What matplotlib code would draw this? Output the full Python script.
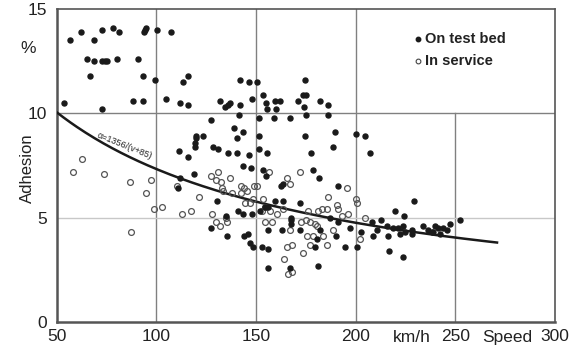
import matplotlib.pyplot as plt
import numpy as np

plt.rcParams['font.family'] = ['Liberation Sans', 'DejaVu Sans']

# on test bed (filled dots): speed km/h, adhesion %
bed_v = [53.5, 56.5, 62.0, 68.6, 72.6, 78.1, 81.1, 65.1, 68.6, 72.6, 74.1, 75.1, 80.1, 90.7,
         66.6, 93.2, 99.2, 93.7, 94.7, 94.2, 100.2, 107.2, 113.3, 115.8, 72.6, 88.2, 93.2,
         104.7, 111.7, 115.8, 119.8, 119.8, 119.3, 119.3, 111.2, 115.8, 118.8, 141.9, 146.4,
         150.4, 174.5, 153.4, 173.5, 175.0, 131.8, 134.3, 135.8, 136.8, 141.9, 147.9, 154.9,
         155.4, 159.4, 161.9, 159.9, 171.0, 174.0, 182.0, 186.0, 141.4, 151.4, 158.9, 167.0,
         175.0, 186.0, 127.3, 123.3, 138.9, 143.4, 140.4, 128.3, 130.8, 151.4, 174.5, 189.6,
         200.1, 204.6, 135.8, 140.4, 146.4, 151.4, 155.4, 177.5, 188.6, 207.1, 143.4, 147.4,
         153.4, 178.5, 111.7, 110.7, 130.3, 134.8, 147.9, 154.9, 154.4, 181.5, 163.5, 162.4,
         191.1, 159.4, 163.5, 172.0, 155.9, 151.9, 219.7, 167.5, 167.5, 167.5, 187.0, 191.1,
         197.1, 202.6, 208.1, 210.6, 212.6, 155.9, 162.9, 172.0, 182.0, 180.5, 190.1, 208.6,
         216.2, 148.4, 152.9, 155.9, 179.5, 194.6, 200.6, 216.7, 155.9, 181.0, 167.0, 135.3,
         143.9, 145.9, 146.9, 127.3, 140.9, 143.4, 229.2, 224.2, 215.7, 218.7, 221.2, 223.7,
         224.7, 228.2, 233.7, 236.2, 238.2, 239.8, 241.3, 243.8, 245.8, 247.3, 222.2, 228.2,
         238.7, 242.3, 252.3, 223.7]
bed_a = [10.5, 13.5, 13.9, 13.5, 14.0, 14.1, 13.9, 12.6, 12.5, 12.5, 12.5, 12.5, 12.6, 12.6,
         11.8, 11.8, 11.6, 13.9, 14.1, 14.0, 14.0, 13.9, 11.5, 11.8, 10.2, 10.6, 10.6,
         10.7, 10.5, 10.4, 8.9, 8.8, 8.6, 8.4, 8.2, 7.9, 7.1, 11.6, 11.5,
         11.5, 11.6, 10.9, 10.9, 10.9, 10.6, 10.3, 10.4, 10.5, 10.4, 10.7, 10.5,
         10.2, 10.6, 10.6, 10.2, 10.6, 10.3, 10.6, 10.4, 9.9, 9.8, 9.8, 9.8,
         9.9, 9.9, 9.7, 8.9, 9.3, 9.1, 8.8, 8.4, 8.3, 8.9, 8.9, 9.1,
         9.0, 8.9, 8.1, 8.1, 8.0, 8.3, 8.1, 8.1, 8.4, 8.1, 7.5, 7.4,
         7.3, 7.3, 6.9, 6.4, 5.8, 5.1, 5.2, 7.0, 5.5, 6.9, 6.6, 6.5,
         6.5, 5.8, 5.8, 5.7, 5.5, 5.3, 5.3, 5.0, 4.9, 4.7, 5.0, 4.8,
         4.5, 4.3, 4.8, 4.4, 4.9, 4.4, 4.4, 4.4, 4.4, 4.0, 4.1, 4.1,
         4.1, 3.6, 3.6, 3.5, 3.6, 3.6, 3.6, 3.4, 2.6, 2.7, 2.6, 4.1,
         4.1, 4.2, 3.8, 4.5, 5.3, 5.2, 5.8, 5.1, 4.6, 4.5, 4.5, 4.6,
         4.3, 4.4, 4.6, 4.4, 4.3, 4.6, 4.5, 4.5, 4.4, 4.7, 4.2, 4.2,
         4.3, 4.2, 4.9, 3.1]

# in service (open circles)
svc_v = [58.0, 62.5, 73.6, 86.6, 97.2, 94.7, 98.7, 102.7, 87.1, 112.7, 117.3, 110.2, 121.3,
         130.8, 127.3, 136.8, 129.8, 132.3, 132.8, 133.3, 137.8, 142.4, 143.9, 145.4, 148.9,
         150.4, 142.4, 144.4, 146.9, 148.4, 127.8, 129.8, 131.8, 134.8, 135.3, 156.4, 165.5,
         167.0, 172.0, 195.6, 186.0, 190.6, 191.1, 200.1, 200.6, 153.4, 154.4, 156.9, 152.9,
         160.4, 163.5, 176.0, 181.0, 183.0, 185.5, 193.1, 196.1, 204.6, 154.4, 157.9, 172.5,
         175.0, 177.0, 179.5, 180.5, 167.0, 188.6, 175.5, 178.5, 183.5, 202.1, 185.5, 177.0,
         165.5, 168.0, 173.5, 163.9, 168.0, 166.0]
svc_a = [7.2, 7.8, 7.1, 6.7, 6.8, 6.2, 5.4, 5.5, 4.3, 5.2, 5.3, 6.5, 6.0,
         7.2, 7.0, 6.9, 6.8, 6.7, 6.4, 6.3, 6.2, 6.5, 6.4, 6.3, 6.5,
         6.5, 6.2, 5.7, 5.7, 5.9, 5.2, 4.8, 4.6, 5.0, 4.8, 7.2, 6.9,
         6.6, 7.2, 6.4, 6.0, 5.6, 5.4, 5.9, 5.7, 5.9, 5.5, 5.3, 5.3,
         5.2, 5.4, 5.3, 5.3, 5.4, 5.4, 5.1, 5.2, 5.0, 4.8, 4.8, 4.8,
         4.9, 4.8, 4.7, 4.6, 4.4, 4.4, 4.1, 4.1, 4.1, 4.0, 3.7, 3.7,
         3.6, 3.7, 3.3, 3.0, 2.4, 2.3]

x_ticks = [50, 100, 150, 200, 250, 300]
y_ticks = [0, 5, 10, 15]

fig = plt.figure(figsize=(5.69, 3.47), dpi=100)
ax = fig.add_axes([0.100, 0.072, 0.875, 0.902])
ax.set_xlim(50, 300)
ax.set_ylim(0, 15)

grid_c = '#808080'
for v in [100, 150, 200]:
    ax.axvline(v, color=grid_c, lw=1.0, zorder=1)
ax.plot([250, 250], [0, 10], color=grid_c, lw=1.0, zorder=1)
ax.axhline(10, color=grid_c, lw=1.0, zorder=1)
ax.axhline(5, color='#c8c8c8', lw=1.0, zorder=1)

# curve alpha = 1356/(v+85)
vc = np.linspace(50, 271, 200)
ax.plot(vc, 1356 / (vc + 85), color='#1a1a1a', lw=1.8, zorder=3)
ax.text(84, 8.45, 'α=1356/(v+85)', rotation=-22, fontsize=6.5, ha='center', va='center',
        color='#222222')

ax.plot(svc_v, svc_a, 'o', ms=4.2, mfc='none', mec='#555555', mew=0.9, zorder=4)
ax.plot(bed_v, bed_a, 'o', ms=3.6, mfc='#1a1a1a', mec='#1a1a1a', zorder=5)

for s in ax.spines.values():
    s.set_color('#555555')
    s.set_linewidth(1.2)
ax.spines['left'].set_linewidth(1.8)
ax.spines['bottom'].set_linewidth(1.8)

ax.set_xticks(x_ticks)
ax.set_yticks(y_ticks)
ax.tick_params(length=0, labelsize=12.5, colors='#222222')
ax.tick_params(axis='y', pad=7)
ax.tick_params(axis='x', pad=5)
ax.set_ylabel('Adhesion', fontsize=12, color='#222222')
ax.yaxis.set_label_coords(-0.045, 0.49)
ax.text(-0.043, 0.875, '%', transform=ax.transAxes, fontsize=12.5, ha='right', va='center',
        color='#222222')
ax.text(228, -0.73, 'km/h', fontsize=12.5, ha='center', va='center', color='#222222')
ax.text(276, -0.73, 'Speed', fontsize=12.5, ha='center', va='center', color='#222222')

# legend
ax.plot([231.5], [13.55], 'o', ms=3.2, mfc='#1a1a1a', mec='#1a1a1a')
ax.text(235, 13.55, 'On test bed', fontsize=10.5, fontweight='bold', va='center', color='#222222')
ax.plot([231.5], [12.5], 'o', ms=3.4, mfc='none', mec='#444444', mew=0.8)
ax.text(235, 12.5, 'In service', fontsize=10.5, fontweight='bold', va='center', color='#222222')

fig.savefig('out.png', dpi=100)
